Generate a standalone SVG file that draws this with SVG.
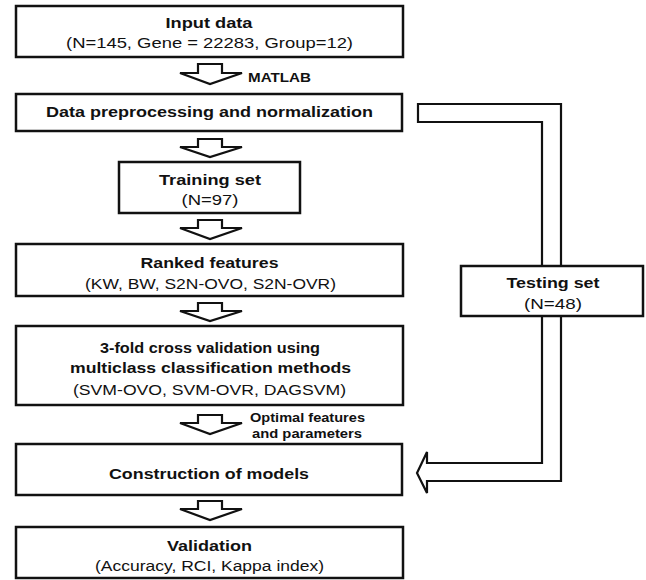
<svg xmlns="http://www.w3.org/2000/svg" width="646" height="580" viewBox="0 0 646 580">
<style>
.box{fill:#fff;stroke:#111;stroke-width:2.5}
.arr{fill:#fff;stroke:#111;stroke-width:2.2;stroke-linejoin:miter}
text{font-family:"Liberation Sans",Arial,sans-serif;fill:#111;text-anchor:middle}
.t{font-size:15.5px;font-weight:bold}
.s{font-size:15.5px}
.l{font-size:12.5px;font-weight:bold;text-anchor:start}
</style>
<rect width="646" height="580" fill="#fff"/>
<g id="connectors">
<path class="arr" d="M418,104 H561 V481 H427 V493 L417,473 L427,452 V463 H542 V122 H418 Z"/>
<path class="arr" d="M198,64 H222 V73 H242 L210,84 L180,73 H198 Z"/>
<path class="arr" d="M198,139 H222 V147 H242 L210,157 L180,147 H198 Z"/>
<path class="arr" d="M198,220 H222 V228 H242 L210,239 L180,228 H198 Z"/>
<path class="arr" d="M198,303 H222 V311 H242 L210,321 L180,311 H198 Z"/>
<path class="arr" d="M198,415 H222 V423 H242 L210,434 L180,423 H198 Z"/>
<path class="arr" d="M198,501 H222 V509 H242 L210,520 L180,509 H198 Z"/>
<text class="l" x="248" y="82" textLength="63" lengthAdjust="spacingAndGlyphs">MATLAB</text>
<text class="l" x="250" y="422" textLength="115" lengthAdjust="spacingAndGlyphs">Optimal features</text>
<text class="l" x="252" y="438" textLength="110" lengthAdjust="spacingAndGlyphs">and parameters</text>
</g>
<g id="input">
<rect class="box" x="16" y="6" width="387" height="51"/>
<text class="t" x="209" y="28" textLength="87" lengthAdjust="spacingAndGlyphs">Input data</text>
<text class="s" x="209.5" y="48" textLength="287" lengthAdjust="spacingAndGlyphs">(N=145, Gene = 22283, Group=12)</text>
</g>
<g id="preprocessing">
<rect class="box" x="16" y="94" width="386" height="37"/>
<text class="t" x="209.5" y="117" textLength="327" lengthAdjust="spacingAndGlyphs">Data preprocessing and normalization</text>
</g>
<g id="training">
<rect class="box" x="119" y="162" width="181" height="51"/>
<text class="t" x="210" y="185" textLength="102" lengthAdjust="spacingAndGlyphs">Training set</text>
<text class="s" x="210" y="205" textLength="57" lengthAdjust="spacingAndGlyphs">(N=97)</text>
</g>
<g id="ranked">
<rect class="box" x="16" y="244" width="387" height="52"/>
<text class="t" x="209.5" y="268" textLength="138" lengthAdjust="spacingAndGlyphs">Ranked features</text>
<text class="s" x="210.5" y="289" textLength="251" lengthAdjust="spacingAndGlyphs">(KW, BW, S2N-OVO, S2N-OVR)</text>
</g>
<g id="testing">
<rect class="box" x="461" y="266" width="182" height="50"/>
<text class="t" x="553" y="288" textLength="93" lengthAdjust="spacingAndGlyphs">Testing set</text>
<text class="s" x="553" y="309" textLength="58" lengthAdjust="spacingAndGlyphs">(N=48)</text>
</g>
<g id="crossval">
<rect class="box" x="16" y="326" width="387" height="79"/>
<text class="t" x="210" y="353" textLength="220" lengthAdjust="spacingAndGlyphs">3-fold cross validation using</text>
<text class="t" x="210.5" y="373" textLength="281" lengthAdjust="spacingAndGlyphs">multiclass classification methods</text>
<text class="s" x="209.5" y="395" textLength="273" lengthAdjust="spacingAndGlyphs">(SVM-OVO, SVM-OVR, DAGSVM)</text>
</g>
<g id="construction">
<rect class="box" x="16" y="444" width="386" height="51"/>
<text class="t" x="209" y="479" textLength="200" lengthAdjust="spacingAndGlyphs">Construction of models</text>
</g>
<g id="validation">
<rect class="box" x="16" y="527" width="387" height="51"/>
<text class="t" x="209.5" y="551" textLength="85" lengthAdjust="spacingAndGlyphs">Validation</text>
<text class="s" x="209.5" y="571" textLength="229" lengthAdjust="spacingAndGlyphs">(Accuracy, RCI, Kappa index)</text>
</g>
</svg>
